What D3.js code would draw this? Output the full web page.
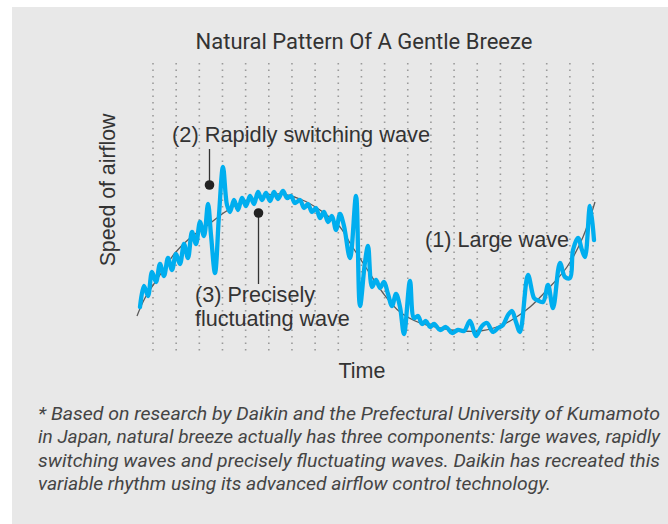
<!DOCTYPE html>
<html>
<head>
<meta charset="utf-8">
<script src="https://cdn.jsdelivr.net/npm/d3@7"></script>
<style>
  body { margin: 0; background: #fff; }
  text { font-family: "Liberation Sans", Arial, sans-serif; fill: #333; }
</style>
</head>
<body>
<div id="chart"></div>
<script>
// Large wave (thin grey) - time / speed
const largeTime  = [0, 8, 23, 38, 53, 71, 88, 103, 123, 143, 163, 183, 203, 213, 226, 246, 263, 283, 303, 323, 343, 363, 378, 393, 410, 430, 446, 458];
const largeSpeed = [24, 42, 65, 87, 102, 115, 128, 137, 143, 146, 141, 130, 113, 97, 77, 47, 28, 17, 12, 9, 9, 14, 22, 33, 50, 73, 103, 138];

// Natural breeze (blue) - time / speed
const breezeTime = [3, 7, 11, 15, 19, 23, 27, 31, 35, 39, 43, 47, 51, 55, 59, 63, 67, 71, 74, 78, 82, 86, 90, 93, 97, 101, 105, 109, 113, 117,
  121, 125, 129, 133, 137, 141, 146, 150, 154, 158, 163, 167, 171, 175, 179, 183, 187, 191, 195, 199, 203, 207, 213, 219, 223, 228, 231, 235,
  239, 243, 247, 251, 255, 259, 263, 267, 273, 277, 281, 285, 289, 293, 297, 303, 309, 315, 321, 327, 333, 339, 345, 350, 356, 361, 366, 371,
  375, 379, 383, 391, 397, 400, 406, 411, 416, 423, 428, 433, 436, 441, 445, 448, 453, 457];
const breezeSpeed = [33, 54, 44, 68, 58, 76, 64, 82, 70, 86, 76, 96, 82, 108, 96, 118, 104, 136, 105, 67, 125, 173, 135, 128, 140, 130, 142, 134, 144, 136,
  148, 140, 147, 139, 148, 141, 149, 142, 144, 137, 140, 132, 136, 128, 132, 122, 128, 118, 124, 110, 126, 114, 82, 144, 34, 78, 94, 53,
  60, 52, 58, 46, 34, 46, 33, 6, 59, 22, 24, 16, 19, 13, 16, 10, 13, 7, 10, 9, 19, 4, 14, 17, 8, 12, 15, 25,
  29, 18, 8, 65, 42, 40, 38, 55, 32, 77, 63, 62, 90, 102, 90, 83, 134, 100];

const footLines = [
  "* Based on research by Daikin and the Prefectural University of Kumamoto",
  "in Japan, natural breeze actually has three components: large waves, rapidly",
  "switching waves and precisely fluctuating waves. Daikin has recreated this",
  "variable rhythm using its advanced airflow control technology."
];

const W = 668, H = 524;

const svg = d3.select("#chart")
    .append("svg")
    .attr("width", W)
    .attr("height", H);

// grey panel
svg.append("rect")
    .attr("x", 12).attr("y", 7)
    .attr("width", W - 12).attr("height", H - 7)
    .attr("fill", "#e8e8e8");

// Scales
const x = d3.scaleLinear().domain([0, 460]).range([137, 597]);
const y = d3.scaleLinear().domain([0, 180]).range([340, 160]);

// dotted vertical grid
const gridX = d3.range(20).map(i => 153 + i * 23.16);
svg.append("g")
    .selectAll("line")
    .data(gridX)
    .enter()
    .append("line")
    .attr("x1", d => d).attr("x2", d => d)
    .attr("y1", 63).attr("y2", 353)
    .attr("stroke", "#9a9a9a")
    .attr("stroke-width", 1.6)
    .attr("stroke-dasharray", "1.6 4.9");

// Title & axis labels
svg.append("text")
    .attr("x", 364).attr("y", 49)
    .attr("text-anchor", "middle")
    .style("font-family", "Roboto, sans-serif")
    .style("font-size", "22px")
    .text("Natural Pattern Of A Gentle Breeze");

svg.append("text")
    .attr("transform", "translate(115,190) rotate(-90)")
    .attr("text-anchor", "middle")
    .style("font-size", "21.3px")
    .text("Speed of airflow");

svg.append("text")
    .attr("x", 362).attr("y", 378)
    .attr("text-anchor", "middle")
    .style("font-size", "21.5px")
    .text("Time");

// Large wave
const largeData = largeTime.map((t, i) => [t, largeSpeed[i]]);
svg.append("path")
    .datum(largeData)
    .attr("fill", "none")
    .attr("stroke", "#5a5a5a")
    .attr("stroke-width", 1.3)
    .attr("d", d3.line()
        .x(d => x(d[0]))
        .y(d => y(d[1]))
        .curve(d3.curveCatmullRom));

// Breeze
const breezeData = breezeTime.map((t, i) => [t, breezeSpeed[i]]);
svg.append("path")
    .datum(breezeData)
    .attr("fill", "none")
    .attr("stroke", "#00aeef")
    .attr("stroke-width", 4.3)
    .attr("stroke-linejoin", "round")
    .attr("stroke-linecap", "round")
    .attr("d", d3.line()
        .x(d => x(d[0]))
        .y(d => y(d[1]))
        .curve(d3.curveCatmullRom.alpha(0.5)));

// Annotations
const ann = svg.append("g");
ann.append("line").attr("x1", 209.5).attr("x2", 209.5).attr("y1", 149).attr("y2", 185)
    .attr("stroke", "#333").attr("stroke-width", 1.3);
ann.append("circle").attr("cx", 209.5).attr("cy", 185).attr("r", 4.8).attr("fill", "#222");
ann.append("text").attr("x", 172).attr("y", 142).style("font-size", "21.8px")
    .text("(2) Rapidly switching wave");

ann.append("line").attr("x1", 258.5).attr("x2", 258.5).attr("y1", 213).attr("y2", 284)
    .attr("stroke", "#333").attr("stroke-width", 1.3);
ann.append("circle").attr("cx", 258.5).attr("cy", 213).attr("r", 4.8).attr("fill", "#222");
ann.append("text").attr("x", 195).attr("y", 302).style("font-size", "21.6px")
    .text("(3) Precisely");
ann.append("text").attr("x", 195).attr("y", 326).style("font-size", "21.6px")
    .text("fluctuating wave");

ann.append("text").attr("x", 425).attr("y", 247).style("font-size", "21.6px")
    .text("(1) Large wave");

// Footnote
const lineEnds = [660, 660, 660, 551];
svg.append("g")
    .selectAll("text")
    .data(footLines)
    .enter()
    .append("text")
    .attr("x", 38)
    .attr("y", (d, i) => 420 + i * 23.4)
    .attr("textLength", (d, i) => lineEnds[i] - 38)
    .attr("lengthAdjust", "spacingAndGlyphs")
    .style("font-family", "Roboto, sans-serif")
    .style("font-size", "19px")
    .style("font-style", "italic")
    .style("fill", "#444")
    .text(d => d);
</script>
</body>
</html>
